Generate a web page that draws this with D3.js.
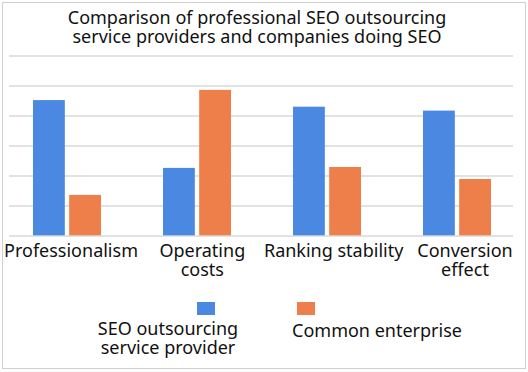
<!DOCTYPE html>
<html>
<head>
<meta charset="utf-8">
<script src="https://cdn.jsdelivr.net/npm/d3@7"></script>
<style>
  body { margin: 0; background: #fff; }
  svg { display: block; font-family: "Noto Sans", "Open Sans", sans-serif; }
</style>
</head>
<body>
<div id="chart"></div>
<script>
// Chart data
const categories = ["Professionalism", "Operating costs", "Ranking stability", "Conversion effect"];
const categoryLines = [["Professionalism"], ["Operating", "costs"], ["Ranking stability"], ["Conversion", "effect"]];
const seriesNames = ["SEO outsourcing service provider", "Common enterprise"];
const seoProvider = [4.53, 2.27, 4.31, 4.18];
const commonEnterprise = [1.37, 4.87, 2.3, 1.9];
const yTicks = [0, 1, 2, 3, 4, 5, 6];
const titleLines = ["Comparison of professional SEO outsourcing", "service providers and companies doing SEO"];

const width = 528;
const height = 372;
const colors = ["#4a88e2", "#ef7f4a"];
const fontSize = "18px";

const svg = d3.select("#chart")
  .append("svg")
  .attr("width", width)
  .attr("height", height);

// Outer frame
svg.append("rect")
  .attr("x", 2.5).attr("y", 2.5)
  .attr("width", 523).attr("height", 366)
  .attr("fill", "#fff")
  .attr("stroke", "#d0d0d0");

// Title
svg.append("g")
  .selectAll("text")
  .data(titleLines)
  .enter()
  .append("text")
  .attr("x", 257)
  .attr("y", (d, i) => 24 + i * 19)
  .attr("text-anchor", "middle")
  .attr("font-size", fontSize)
  .attr("fill", "#111")
  .text((d) => d);

// Scales
const xScale = d3.scaleBand().domain(categories).range([2, 522]);
const xInner = d3.scaleBand().domain([0, 1]).range([0, 68]).paddingInner(0.12);
const yScale = d3.scaleLinear().domain([0, 6]).range([236, 56]);
// label centres sit a little apart from the bar groups (wider text)
const xLabel = d3.scalePoint().domain(categories).range([71, 465]);

// Gridlines
svg.append("g")
  .selectAll("line")
  .data(yTicks.slice(1))
  .enter()
  .append("line")
  .attr("x1", 9)
  .attr("x2", 513)
  .attr("y1", (d) => yScale(d))
  .attr("y2", (d) => yScale(d))
  .attr("stroke", "#d9d9d9")
  .attr("stroke-width", 1.5);

// Bars
const seriesData = [seoProvider, commonEnterprise];
seriesData.forEach((values, s) => {
  svg.append("g")
    .selectAll("rect")
    .data(values)
    .enter()
    .append("rect")
    .attr("x", (d, i) => xScale(categories[i]) + xScale.bandwidth() / 2 - 34 + xInner(s))
    .attr("y", (d) => yScale(d))
    .attr("width", xInner.bandwidth())
    .attr("height", (d) => yScale(0) - yScale(d))
    .attr("fill", colors[s]);
});

// Baseline
svg.append("line")
  .attr("x1", 9).attr("x2", 513)
  .attr("y1", yScale(0)).attr("y2", yScale(0))
  .attr("stroke", "#d9d9d9")
  .attr("stroke-width", 1.5);

// Category labels
const labels = svg.append("g")
  .selectAll("text")
  .data(categories)
  .enter()
  .append("text")
  .attr("text-anchor", "middle")
  .attr("font-size", fontSize)
  .attr("fill", "#111");

labels.selectAll("tspan")
  .data((d, i) => categoryLines[i].map((line) => ({ line, cat: d })))
  .enter()
  .append("tspan")
  .attr("x", (d) => xLabel(d.cat))
  .attr("y", (d, j) => 257 + j * 19)
  .text((d) => d.line);

// Legend
const legendSquares = [{ x: 197, y: 302 }, { x: 297, y: 302 }];
const legendText = [
  { x: 168, lines: ["SEO outsourcing", "service provider"] },
  { x: 377, lines: ["Common enterprise"] },
];

svg.append("g")
  .selectAll("rect")
  .data(seriesNames)
  .enter()
  .append("rect")
  .attr("x", (d, i) => legendSquares[i].x)
  .attr("y", (d, i) => legendSquares[i].y)
  .attr("width", 18)
  .attr("height", 13)
  .attr("fill", (d, i) => colors[i]);

const legendLabels = svg.append("g")
  .selectAll("text")
  .data(seriesNames)
  .enter()
  .append("text")
  .attr("text-anchor", "middle")
  .attr("font-size", fontSize)
  .attr("fill", "#111");

legendLabels.selectAll("tspan")
  .data((d, i) => legendText[i].lines.map((line) => ({ line, x: legendText[i].x, n: legendText[i].lines.length })))
  .enter()
  .append("tspan")
  .attr("x", (d) => d.x)
  .attr("y", (d, j) => (d.n === 1 ? 337 : 335 + j * 18.5))
  .text((d) => d.line);
</script>
</body>
</html>
